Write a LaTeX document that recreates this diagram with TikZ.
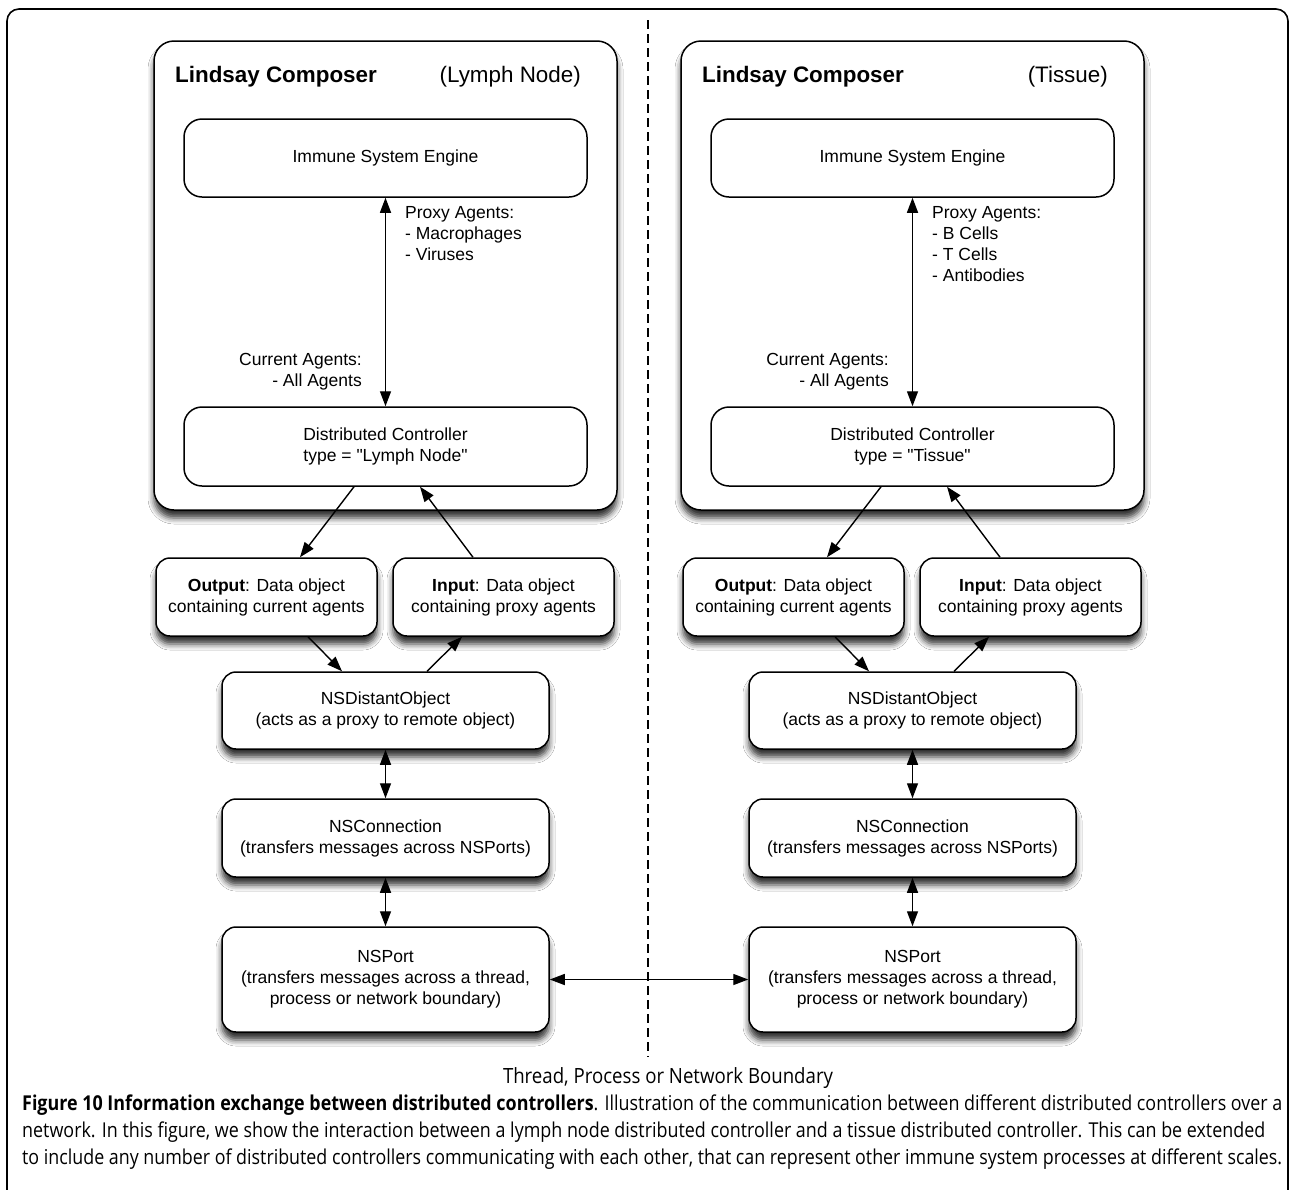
\documentclass[tikz,border=0pt]{standalone}
\usepackage{fontspec}
\usepackage{graphicx}
\setmainfont{Liberation Sans}[Ligatures=TeXOff]
\newfontfamily\capfont{Open Sans}
\usetikzlibrary{arrows.meta,calc,shadows.blur}
\tikzset{
  box/.style={draw, line width=1.5pt, rounded corners=14pt, fill=white, align=center,
    font=\fontsize{17.5}{21}\selectfont, inner sep=0pt},
  shad/.style={blur shadow={shadow xshift=0pt, shadow yshift=-8pt, shadow blur radius=6pt, shadow opacity=80}},
  ttl/.style={inner sep=0pt, font=\fontsize{22.4}{26}\selectfont},
  lbl/.style={inner sep=0pt, align=left, font=\fontsize{17.5}{21}\selectfont},
  arr/.style={line width=1.4pt, -{Triangle[length=15pt,width=11pt]}},
  dbl/.style={line width=1.4pt, {Triangle[length=15pt,width=11pt]}-{Triangle[length=15pt,width=11pt]}}
}
\newcommand\lccolumn[5]{%
\begin{scope}[xshift=#1pt, name prefix=#2]
  \node[box, shad, rounded corners=20pt, minimum width=463pt, minimum height=469pt] (comp) at (385.5,275.5) {};
  \node[ttl, anchor=base west] (title) at (175,82) {\bfseries Lindsay Composer};
  \node[ttl, anchor=base east] (tag) at (581,82) {#3};
  \node[box, rounded corners=18pt, minimum width=403pt, minimum height=78pt] (eng) at (385.5,158) {Immune System Engine};
  \node[box, rounded corners=18pt, minimum width=403pt, minimum height=79pt] (dc) at (385.5,446.5) {Distributed Controller\\type = "#5"};
  \draw[dbl] (eng) -- (dc);
  \node[lbl, anchor=north west] (pa) at (405,206.5) {Proxy Agents:\\#4};
  \node[lbl, anchor=north east, align=right] (ca) at (362,353.5) {Current Agents:\\- All Agents};
  \node[box, shad, minimum width=221pt, minimum height=78pt] (out) at (266.5,597) {\textbf{Output}: Data object\\containing current agents};
  \node[box, shad, minimum width=221pt, minimum height=78pt] (in) at (503.5,597) {\textbf{Input}: Data object\\containing proxy agents};
  \node[box, shad, minimum width=327pt, minimum height=77pt] (nsd) at (385.5,710.5) {NSDistantObject\\(acts as a proxy to remote object)};
  \node[box, shad, minimum width=327pt, minimum height=78pt] (nsc) at (385.5,838) {NSConnection\\(transfers messages across NSPorts)};
  \node[box, shad, minimum width=327pt, minimum height=105pt] (nsp) at (385.5,979.5) {NSPort\\(transfers messages across a thread,\\process or network boundary)};
  \draw[arr] ($(dc.south)+(-31.5,0)$) -- ($(out.north)+(33.5,0)$);
  \draw[arr] ($(in.north)+(-30.5,0)$) -- ($(dc.south)+(34.5,0)$);
  \draw[arr] ($(out.south)+(41.5,0)$) -- ($(nsd.north)+(-43.5,0)$);
  \draw[arr] ($(nsd.north)+(41.5,0)$) -- ($(in.south)+(-41.5,0)$);
  \draw[dbl] (nsd) -- (nsc);
  \draw[dbl] (nsc) -- (nsp);
\end{scope}}
\begin{document}
\begin{tikzpicture}[x=1pt, y=-1pt]
  \useasboundingbox (0,0) rectangle (1289,1189);
  \fill[white] (0,0) rectangle (1289,1189);
  % outer frame
  \coordinate (f1) at (7,1200);
  \coordinate (f2) at (7,9);
  \coordinate (f3) at (1288,9);
  \coordinate (f4) at (1288,1200);
  \draw[line width=1.6pt, rounded corners=12pt] (f1) -- (f2) -- (f3) -- (f4);
  % boundary
  \coordinate (dt) at (648,20);
  \coordinate (db) at (648,1057);
  \draw[line width=1.3pt, dash pattern=on 9pt off 5pt] (dt) -- (db);
  \lccolumn{0}{L-}{(Lymph Node)}{- Macrophages\\- Viruses}{Lymph Node}
  \lccolumn{527}{R-}{(Tissue)}{- B Cells\\- T Cells\\- Antibodies}{Tissue}
  \draw[dbl] (L-nsp) -- (R-nsp);
  \node[inner sep=0pt] (bnd) at (668,1078) {\resizebox{330pt}{\height}{\capfont\fontsize{21}{24}\selectfont Thread, Process or Network Boundary}};
  \node[anchor=base west, inner sep=0pt] (c1) at (22,1110) {\resizebox{1260pt}{\height}{\capfont\fontsize{20.5}{27}\selectfont\textbf{Figure 10 Information exchange between distributed controllers}. Illustration of the communication between different distributed controllers over a}};
  \node[anchor=base west, inner sep=0pt] (c2) at (22,1137) {\resizebox{1243pt}{\height}{\capfont\fontsize{20.5}{27}\selectfont network. In this figure, we show the interaction between a lymph node distributed controller and a tissue distributed controller. This can be extended}};
  \node[anchor=base west, inner sep=0pt] (c3) at (22,1164) {\resizebox{1260pt}{\height}{\capfont\fontsize{20.5}{27}\selectfont to include any number of distributed controllers communicating with each other, that can represent other immune system processes at different scales.}};
\end{tikzpicture}
\end{document}
